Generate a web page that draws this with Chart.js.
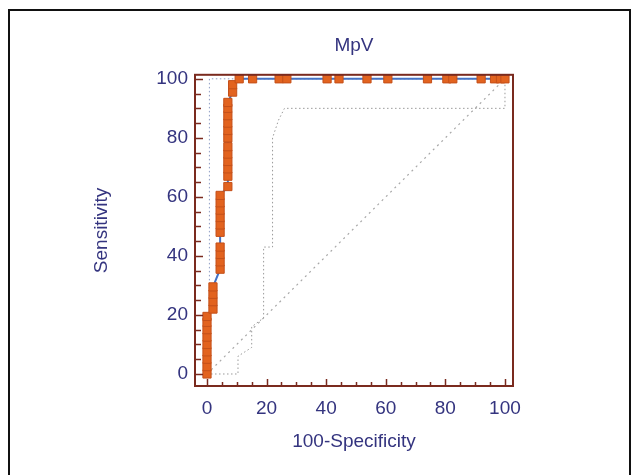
<!DOCTYPE html>
<html><head><meta charset="utf-8">
<script src="https://cdn.jsdelivr.net/npm/chart.js@4"></script>
<style>
html,body{margin:0;padding:0;background:#fff;}
#wrap{position:relative;width:633px;height:475px;overflow:hidden;background:#fff;}
#frame{position:absolute;left:8px;top:9px;width:619px;height:520px;border:2px solid #111;pointer-events:none;}
canvas{position:absolute;left:0;top:0;}
</style></head><body>
<div id="wrap"><canvas id="c" width="633" height="475"></canvas><div id="frame"></div></div>
<script>
// ROC curve points (100-Specificity, Sensitivity)
const rocX = [0,0,0,0,0,0,0,0,0, 2,2,2,2, 4.4,4.4,4.4,4.4,4.4,4.4,4.4,4.4,4.4,4.4, 7,7,7,7,7,7,7,7,7,7,7,7, 8.6,8.6, 10.8,15.3,24.2,26.8,40.3,44.3,53.7,60.7,74,80.5,82.5,92,96.5,98.5,100];
const rocY = [0,2.5,5,7.5,10,12.5,15,17.5,19.5, 22,24.5,27,29.5, 35.5,38,40.5,43,48,50.5,53,55.5,58,60.5, 63.5,67,69.5,72,74.5,77,80,82.5,85,87.5,90,92, 95.5,98, 100,100,100,100,100,100,100,100,100,100,100,100,100,100,100];
// Upper confidence bound
const upX = [0, 0.8, 0.8, 11, 100];
const upY = [0, 0, 100, 100, 100];
// Lower confidence bound
const lowX = [0, 10.4, 10.4, 15, 15, 19, 19, 22, 22, 24, 26, 100, 100];
const lowY = [0, 0, 6, 9, 16, 19, 43, 43, 80, 86, 90, 90, 100];
// Reference diagonal
const diagX = [0, 100];
const diagY = [0, 100];
const tickValues = [0,5,10,15,20,25,30,35,40,45,50,55,60,65,70,75,80,85,90,95,100];
const labelValues = [0,20,40,60,80,100];

const pts = (xs, ys) => xs.map((x, i) => ({x: x, y: ys[i]}));
const navy = '#34347f';
const frameColor = '#7a2a1e';
const font = {family: '"Liberation Sans", Arial, sans-serif', size: 19, weight: 'normal'};

const framePlugin = {
  id: 'framePlugin',
  afterDatasetsDraw(chart) {
    const {ctx, chartArea: a, scales} = chart;
    ctx.save();
    ctx.strokeStyle = frameColor;
    ctx.lineWidth = 1.5;
    tickValues.forEach(v => {
      const major = v % 20 === 0;
      const xp = Math.round(scales.x.getPixelForValue(v)) + 0.5;
      ctx.beginPath(); ctx.moveTo(xp, a.bottom); ctx.lineTo(xp, a.bottom - (major ? 7 : 4)); ctx.stroke();
      const yp = Math.round(scales.y.getPixelForValue(v)) + 0.5;
      ctx.beginPath(); ctx.moveTo(a.left, yp); ctx.lineTo(a.left + (major ? 8 : 6), yp); ctx.stroke();
    });
    ctx.lineWidth = 2;
    ctx.strokeRect(a.left, a.top, a.right - a.left, a.bottom - a.top);
    ctx.restore();
  }
};

new Chart(document.getElementById('c'), {
  type: 'scatter',
  data: {
    datasets: [
      {data: pts(rocX, rocY), showLine: true, borderColor: '#4472c4', borderWidth: 2,
       pointStyle: 'rect', pointRadius: 5.8, pointBackgroundColor: '#e2631f', pointBorderColor: '#c4501a', pointBorderWidth: 1, order: 0},
      {data: pts(upX, upY), showLine: true, borderColor: '#8d9cc4', borderWidth: 1, borderDash: [1.5, 2.5], pointRadius: 0, order: 2},
      {data: pts(lowX, lowY), showLine: true, borderColor: '#9a9a9a', borderWidth: 1, borderDash: [1.5, 2.5], pointRadius: 0, order: 2},
      {data: pts(diagX, diagY), showLine: true, borderColor: '#a8a8a8', borderWidth: 1.2, borderDash: [2, 4], pointRadius: 0, order: 3}
    ]
  },
  options: {
    responsive: false,
    animation: false,
    layout: {padding: {left: 90, right: 120, top: 0, bottom: 22}},
    plugins: {
      legend: {display: false},
      tooltip: {enabled: false},
      title: {display: true, text: 'MpV', color: navy, font: font, fullSize: false, padding: {top: 34, bottom: 18}}
    },
    scales: {
      x: {
        type: 'linear', min: -4.03, max: 102.7,
        afterBuildTicks: s => { s.ticks = tickValues.map(v => ({value: v})); },
        afterFit: s => { s.height = 67; },
        grid: {display: false, drawTicks: false}, border: {display: false},
        ticks: {autoSkip: false, maxRotation: 0, color: navy, font: font, padding: 11,
                callback: v => labelValues.includes(v) ? String(v) : ''},
        title: {display: true, text: '100-Specificity', color: navy, font: font, padding: 0}
      },
      y: {
        type: 'linear', min: -4.07, max: 101.36,
        afterBuildTicks: s => { s.ticks = tickValues.map(v => ({value: v})); },
        afterFit: s => { s.width = 105; },
        grid: {display: false, drawTicks: false}, border: {display: false},
        ticks: {autoSkip: false, color: navy, font: font, padding: 7,
                callback: v => labelValues.includes(v) ? String(v) : ''},
        title: {display: true, text: 'Sensitivity', color: navy, font: font, padding: 0}
      }
    }
  },
  plugins: [framePlugin]
});
</script>
</body></html>
